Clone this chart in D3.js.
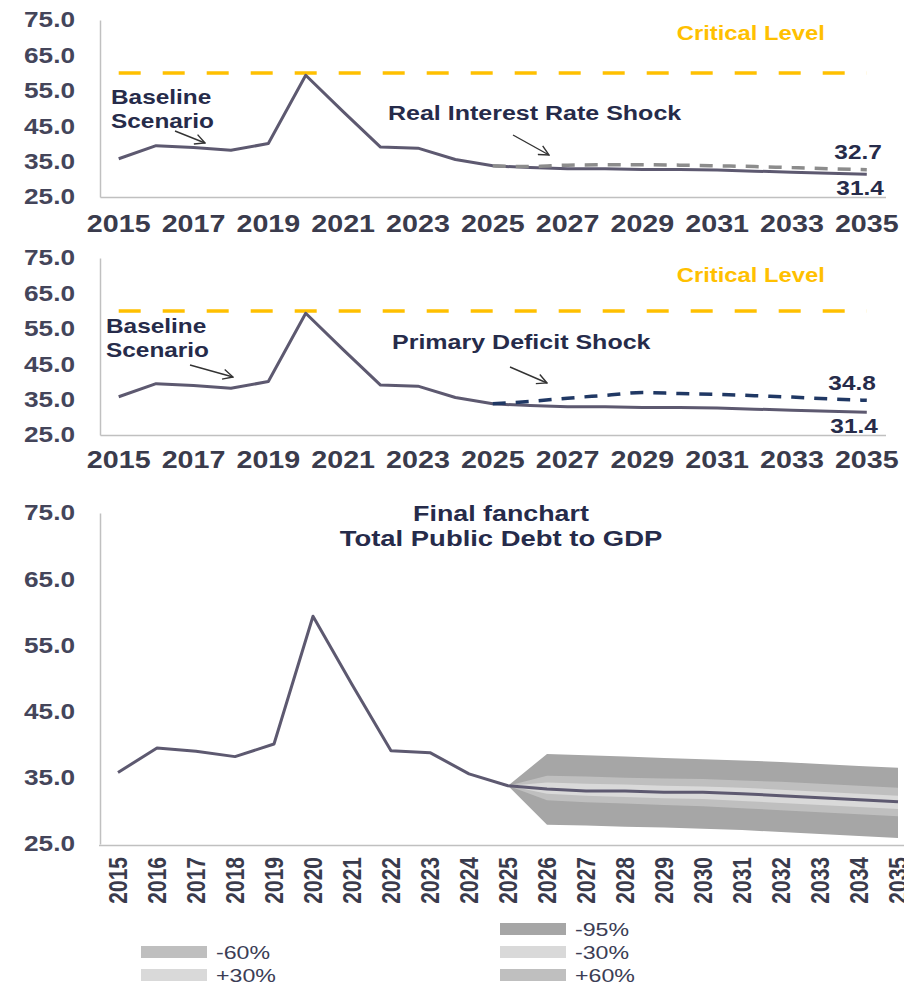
<!DOCTYPE html>
<html>
<head>
<meta charset="utf-8">
<script src="https://cdn.jsdelivr.net/npm/d3@7"></script>
<style>
	body { margin: 0; background: #fff; }
	svg { display: block; font-family: "Liberation Sans", Arial, sans-serif; }
</style>
</head>
<body>
<script>
// ---- data ----
const years = [2015, 2016, 2017, 2018, 2019, 2020, 2021, 2022, 2023, 2024, 2025,
	2026, 2027, 2028, 2029, 2030, 2031, 2032, 2033, 2034, 2035];
const baseline = [35.8, 39.5, 39.0, 38.2, 40.1, 59.4, 49.1, 39.1, 38.8, 35.6, 33.8,
	33.3, 33.0, 33.0, 32.8, 32.8, 32.6, 32.3, 32.0, 31.7, 31.4];

const projYears = [2025, 2026, 2027, 2028, 2029, 2030, 2031, 2032, 2033, 2034, 2035];
const interestShock = [33.8, 33.6, 34.0, 34.1, 34.1, 34.0, 33.8, 33.6, 33.3, 33.0, 32.7];
const deficitShock = [33.8, 34.5, 35.4, 36.2, 37.0, 36.7, 36.5, 36.1, 35.7, 35.2, 34.8];

const fan95High = [33.8, 38.6, 38.4, 38.2, 38.0, 37.8, 37.6, 37.4, 37.1, 36.8, 36.5];
const fan60High = [33.8, 35.3, 35.2, 35.0, 34.9, 34.8, 34.6, 34.4, 34.1, 33.8, 33.5];
const fan30High = [33.8, 34.3, 34.1, 34.0, 33.8, 33.7, 33.5, 33.2, 32.9, 32.6, 32.3];
const fan30Low = [33.8, 32.6, 32.3, 32.1, 31.9, 31.8, 31.5, 31.2, 30.9, 30.6, 30.3];
const fan60Low = [33.8, 31.6, 31.3, 31.1, 30.9, 30.7, 30.4, 30.1, 29.8, 29.5, 29.2];
const fan95Low = [33.8, 27.9, 27.8, 27.6, 27.5, 27.3, 27.1, 26.8, 26.5, 26.2, 25.9];

const criticalLevel = 60;
const yTicks = [25, 35, 45, 55, 65, 75];
const legendLabels = ["", "-95%", "-60%", "-30%", "+30%", "+60%"];

// ---- styles ----
const SX = 1.22; // the picture is stretched sideways
const lineColor = "#5d5970";
const axisColor = "#c0c0c0";
const tickColor = "#3a3b4c";
const noteColor = "#262b4a";
const gold = "#ffc000";
const bandColor = { "-95%": "#a6a6a6", "-60%": "#bfbfbf", "-30%": "#d9d9d9", "+30%": "#d9d9d9", "+60%": "#bfbfbf" };

const svg = d3.select("body").append("svg").attr("width", 904).attr("height", 985);

svg.append("defs").append("marker")
	.attr("id", "arrow")
	.attr("viewBox", "0 0 12 12")
	.attr("refX", 11).attr("refY", 6)
	.attr("markerWidth", 12).attr("markerHeight", 12)
	.attr("markerUnits", "userSpaceOnUse")
	.attr("orient", "auto")
	.append("path")
	.attr("d", "M1,1 L11,6 L1,11")
	.attr("fill", "none")
	.attr("stroke", "#333")
	.attr("stroke-width", 1.4);

const label = (g, str, x, y, o = {}) =>
	g.append("text")
		.attr("transform", `translate(${x},${y}) scale(${SX},1)`)
		.attr("dy", "0.35em")
		.attr("text-anchor", o.anchor || "start")
		.style("font-size", (o.size || 20) + "px")
		.style("font-weight", o.weight || "bold")
		.style("fill", o.fill || noteColor)
		.text(str);

const arrow = (g, x1, y1, x2, y2) =>
	g.append("line")
		.attr("x1", x1).attr("y1", y1).attr("x2", x2).attr("y2", y2)
		.attr("stroke", "#333").attr("stroke-width", 1.4)
		.attr("marker-end", "url(#arrow)");

const styleAxis = (sel) => {
	sel.attr("font-family", null).attr("font-size", null);
	sel.select(".domain").attr("stroke", axisColor).attr("stroke-width", 1.5);
};

const drawLeftAxis = (g, y) => {
	const ax = g.append("g")
		.attr("transform", "translate(100,0)")
		.call(d3.axisLeft(y).tickValues(yTicks).tickFormat(d3.format(".1f")).tickSize(0));
	styleAxis(ax);
	ax.selectAll(".tick text")
		.attr("x", null)
		.attr("transform", `translate(-25,0) scale(${SX},1)`)
		.style("font-size", "21.5px")
		.style("font-weight", "bold")
		.style("fill", "#44455a");
};

// ---- shock panels (top and middle) ----
const drawShockPanel = (p) => {
	const g = svg.append("g");
	const x = d3.scaleBand().domain(years).range([100, 885.5]);
	const cx = (d) => x(d) + x.bandwidth() / 2;
	const y = d3.scaleLinear().domain([25, 75]).range([p.bottom, p.top]);

	drawLeftAxis(g, y);
	const xa = g.append("g")
		.attr("transform", `translate(0,${p.bottom})`)
		.call(d3.axisBottom(x).tickValues(years.filter((d, i) => i % 2 === 0)).tickSize(0).tickPadding(p.yearPad));
	styleAxis(xa);
	xa.selectAll(".tick text")
		.attr("transform", `scale(${SX},1)`)
		.style("font-size", "23.5px")
		.style("font-weight", "bold")
		.style("fill", tickColor);

	// critical level
	g.append("line")
		.attr("x1", cx(years[0])).attr("x2", cx(years[years.length - 1]))
		.attr("y1", y(criticalLevel)).attr("y2", y(criticalLevel))
		.attr("stroke", gold).attr("stroke-width", 3.5)
		.attr("stroke-dasharray", "22,22");

	const line = d3.line().x((d) => cx(d[0])).y((d) => y(d[1]));
	g.append("path")
		.datum(years.map((d, i) => [d, baseline[i]]))
		.attr("d", line)
		.attr("fill", "none").attr("stroke", lineColor)
		.attr("stroke-width", 3).attr("stroke-linejoin", "round");
	g.append("path")
		.datum(projYears.map((d, i) => [d, p.shock[i]]))
		.attr("d", line.curve(d3.curveMonotoneX))
		.attr("fill", "none").attr("stroke", p.color)
		.attr("stroke-width", 3.5).attr("stroke-dasharray", "13,10");

	// notes
	label(g, "Critical Level", cx(2030) - 3, y(criticalLevel) - p.critGap, { fill: gold, size: 19.5 });
	label(g, "Baseline", p.baseX, p.baseY, {});
	label(g, "Scenario", p.baseX, p.baseY + 23.5, {});
	arrow(g, ...p.baseArrow);
	label(g, p.title, p.titleX, p.titleY, { size: 20.5 });
	arrow(g, ...p.shockArrow);

	const last = years.length - 1;
	const lastShock = p.shock[p.shock.length - 1];
	label(g, lastShock.toFixed(1), cx(2035) + p.valX, y(lastShock) - 17.5, { anchor: "end" });
	label(g, baseline[last].toFixed(1), cx(2035) + p.valX + 2, y(baseline[last]) + 14, { anchor: "end" });
};

drawShockPanel({
	top: 20, bottom: 197, yearPad: 18, critGap: 40,
	shock: interestShock, color: "#8c8c8c",
	title: "Real Interest Rate Shock", titleX: 388, titleY: 113,
	baseX: 111, baseY: 97,
	baseArrow: [175, 131, 205, 143],
	shockArrow: [513, 135, 549, 155],
	valX: 15
});

drawShockPanel({
	top: 258, bottom: 435, yearPad: 16, critGap: 36,
	shock: deficitShock, color: "#203864",
	title: "Primary Deficit Shock", titleX: 392, titleY: 342,
	baseX: 106, baseY: 326,
	baseArrow: [190, 365, 233, 377],
	shockArrow: [510, 367, 547, 383],
	valX: 9
});

// ---- fan chart (bottom) ----
{
	const g = svg.append("g");
	const x = d3.scaleBand().domain(years).range([98.5, 917.5]);
	const cx = (d) => x(d) + x.bandwidth() / 2;
	const y = d3.scaleLinear().domain([25, 75]).range([844, 513]);

	const rows = projYears.map((d, i) => ({
		year: d,
		lo95: fan95Low[i], hi95: fan95High[i],
		lo60: fan60Low[i], hi60: fan60High[i],
		lo30: fan30Low[i], hi30: fan30High[i]
	}));
	const band = (lo, hi) => d3.area().x((d) => cx(d.year)).y0((d) => y(d[lo])).y1((d) => y(d[hi]));
	g.append("path").datum(rows).attr("d", band("lo95", "hi95")).attr("fill", bandColor["-95%"]);
	g.append("path").datum(rows).attr("d", band("lo60", "hi60")).attr("fill", bandColor["-60%"]);
	g.append("path").datum(rows).attr("d", band("lo30", "hi30")).attr("fill", bandColor["-30%"]);

	g.append("path")
		.datum(years.map((d, i) => [d, baseline[i]]))
		.attr("d", d3.line().x((d) => cx(d[0])).y((d) => y(d[1])))
		.attr("fill", "none").attr("stroke", lineColor)
		.attr("stroke-width", 3).attr("stroke-linejoin", "round");

	drawLeftAxis(g, y);
	const xa = g.append("g")
		.attr("transform", "translate(0,845)")
		.call(d3.axisBottom(x).tickSize(0).tickPadding(12));
	styleAxis(xa);
	xa.selectAll(".tick text")
		.attr("y", null).attr("dy", "0.35em")
		.attr("x", -12)
		.attr("text-anchor", "end")
		.attr("transform", `scale(${SX},1) rotate(-90)`)
		.style("font-size", "21px")
		.style("font-weight", "bold")
		.style("fill", tickColor);

	label(g, "Final fanchart", 501, 513, { anchor: "middle", size: 22 });
	label(g, "Total Public Debt to GDP", 501, 538, { anchor: "middle", size: 22.5 });

	// legend, two columns
	const legend = g.append("g");
	legendLabels.forEach((d, i) => {
		if (!d) return;
		const lx = i % 2 === 0 ? 141 : 500;
		const ly = 929 + Math.floor(i / 2) * 23;
		legend.append("rect")
			.attr("x", lx).attr("y", ly - 6)
			.attr("width", 66).attr("height", 12)
			.attr("fill", bandColor[d]);
		label(legend, d, lx + 75, ly, { weight: "normal", size: 19, fill: "#3b3d55" });
	});
}
</script>
</body>
</html>
